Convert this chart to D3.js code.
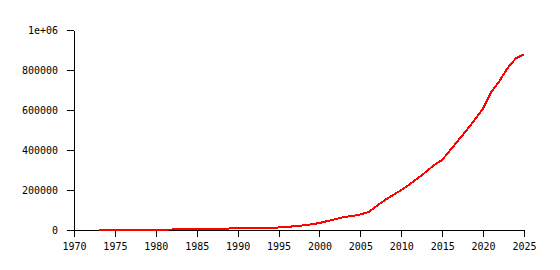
<!DOCTYPE html>
<html>
<head>
<meta charset="utf-8">
<script src="https://cdn.jsdelivr.net/npm/d3@7"></script>
<style>
  body { margin: 0; background: #fff; }
  svg { display: block; }
  .axis text { font-family: "DejaVu Sans Mono", monospace; font-size: 10px; fill: #000; }
  .axis path, .axis line { stroke: #000; shape-rendering: crispEdges; }
</style>
</head>
<body>
<svg id="chart"></svg>
<script>
// yearly values
const years = d3.range(1973, 2026);
const values = [
    2000, 2000, 2000, 2000, 2000, 2000, 2000, 2200, 2300, 2500,   // 1973-1982
    7000, 7000, 7000, 7200, 7300, 7400, 7500, 7600, 7700, 7800, 7900, 8000, // 1983-1994
    13000, 14000, 20000, 23000, 28000,                             // 1995-1999
    35000, 45000, 55000, 65000, 70000, 78000, 90000, 120000, 150000, 175000, // 2000-2009
    200000, 228000, 258000, 290000, 325000, 350000, 400000, 450000, 500000, 552000, // 2010-2019
    608000, 690000, 745000, 810000, 858000, 878000                 // 2020-2025
];
const xTicks = d3.range(1970, 2026, 5);
const yTicks = [0, 200000, 400000, 600000, 800000, 1000000];

const width = 560;
const height = 270;
const margin = { top: 30, right: 36, bottom: 40, left: 74 };

const svg = d3.select("#chart")
    .attr("width", width)
    .attr("height", height);

const x = d3.scaleLinear()
    .domain([1970, 2025])
    .range([margin.left, width - margin.right]);

const y = d3.scaleLinear()
    .domain([0, 1000000])
    .range([height - margin.bottom, margin.top]);

const fmt = v => v === 1000000 ? "1e+06" : String(v);

svg.append("g")
    .attr("class", "axis")
    .attr("transform", `translate(0,${height - margin.bottom})`)
    .call(d3.axisBottom(x).tickValues(xTicks).tickFormat(d3.format("d"))
        .tickSizeInner(7).tickSizeOuter(0).tickPadding(6));

svg.append("g")
    .attr("class", "axis")
    .attr("transform", `translate(${margin.left},0)`)
    .call(d3.axisLeft(y).tickValues(yTicks).tickFormat(fmt)
        .tickSizeInner(7).tickSizeOuter(0).tickPadding(9));

svg.selectAll(".domain").attr("stroke", "#000");

const line = d3.line()
    .x((d, i) => x(years[i]))
    .y(d => y(d));

svg.append("path")
    .datum(values)
    .attr("fill", "none")
    .attr("stroke", "#ff0000")
    .attr("stroke-width", 2)
    .attr("shape-rendering", "crispEdges")
    .attr("d", line);
</script>
</body>
</html>
